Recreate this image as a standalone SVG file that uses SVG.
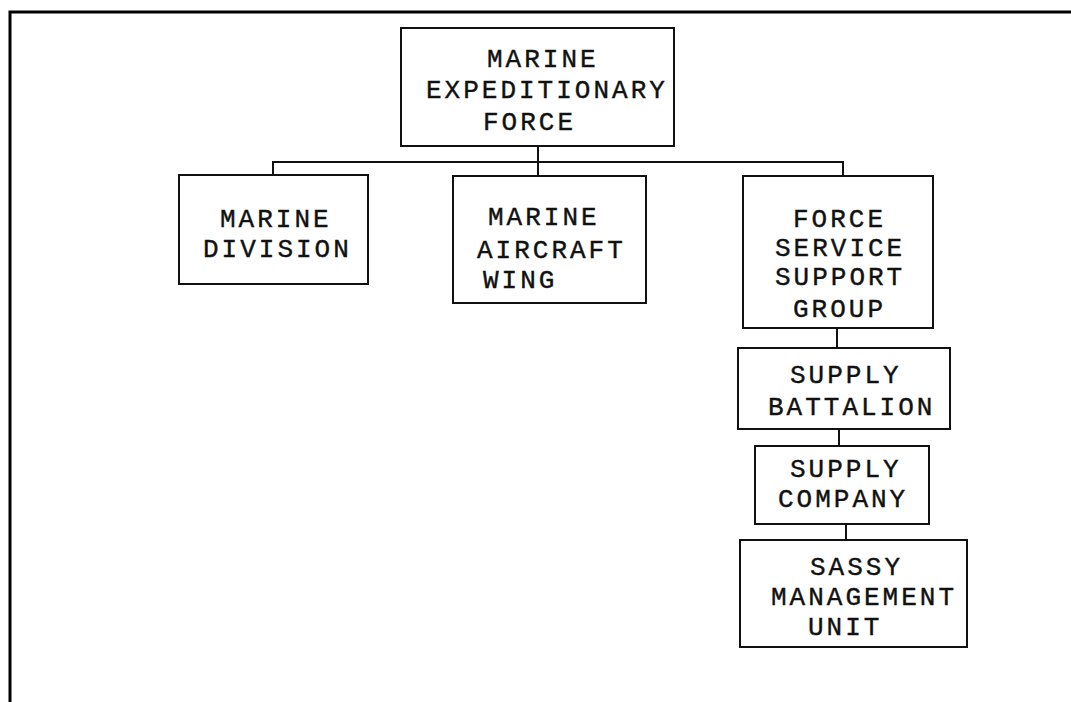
<svg xmlns="http://www.w3.org/2000/svg" width="1071" height="702" viewBox="0 0 1071 702">
<style>
.box{fill:#fff;stroke:#111;stroke-width:2}
.ln{fill:none;stroke:#111;stroke-width:2}
.frame{fill:none;stroke:#000;stroke-width:3}
text{font-family:"Liberation Mono","Courier New",monospace;font-size:26px;letter-spacing:3px;fill:#111;stroke:#111;stroke-width:0.4}
</style>
<rect width="1071" height="702" fill="#fff"/>
<path class="frame" d="M10,702 L10,12 L1071,12"/>
<g id="connectors">
<path class="ln" d="M538,146 L538,162"/>
<path class="ln" d="M273,175 L273,162 L843,162 L843,176"/>
<path class="ln" d="M538,162 L538,176"/>
<path class="ln" d="M837,328 L837,348"/>
<path class="ln" d="M839,429 L839,446"/>
<path class="ln" d="M846,524 L846,540"/>
</g>
<g id="mef">
<rect class="box" x="401" y="28" width="273" height="118"/>
<text x="487" y="67">MARINE</text>
<text x="426" y="98">EXPEDITIONARY</text>
<text x="483" y="130">FORCE</text>
</g>
<g id="md">
<rect class="box" x="179" y="175" width="189" height="109"/>
<text x="220" y="227">MARINE</text>
<text x="203" y="257">DIVISION</text>
</g>
<g id="maw">
<rect class="box" x="453" y="176" width="193" height="127"/>
<text x="488" y="225">MARINE</text>
<text x="477" y="258">AIRCRAFT</text>
<text x="483" y="288">WING</text>
</g>
<g id="fssg">
<rect class="box" x="743" y="176" width="190" height="152"/>
<text x="793" y="227">FORCE</text>
<text x="775" y="256">SERVICE</text>
<text x="775" y="285">SUPPORT</text>
<text x="793" y="317">GROUP</text>
</g>
<g id="sb">
<rect class="box" x="738" y="348" width="212" height="81"/>
<text x="790" y="383">SUPPLY</text>
<text x="768" y="415">BATTALION</text>
</g>
<g id="sc">
<rect class="box" x="755" y="446" width="174" height="78"/>
<text x="790" y="477">SUPPLY</text>
<text x="778" y="507">COMPANY</text>
</g>
<g id="sassy">
<rect class="box" x="740" y="540" width="227" height="107"/>
<text x="810" y="575">SASSY</text>
<text x="771" y="605">MANAGEMENT</text>
<text x="808" y="635">UNIT</text>
</g>
</svg>
